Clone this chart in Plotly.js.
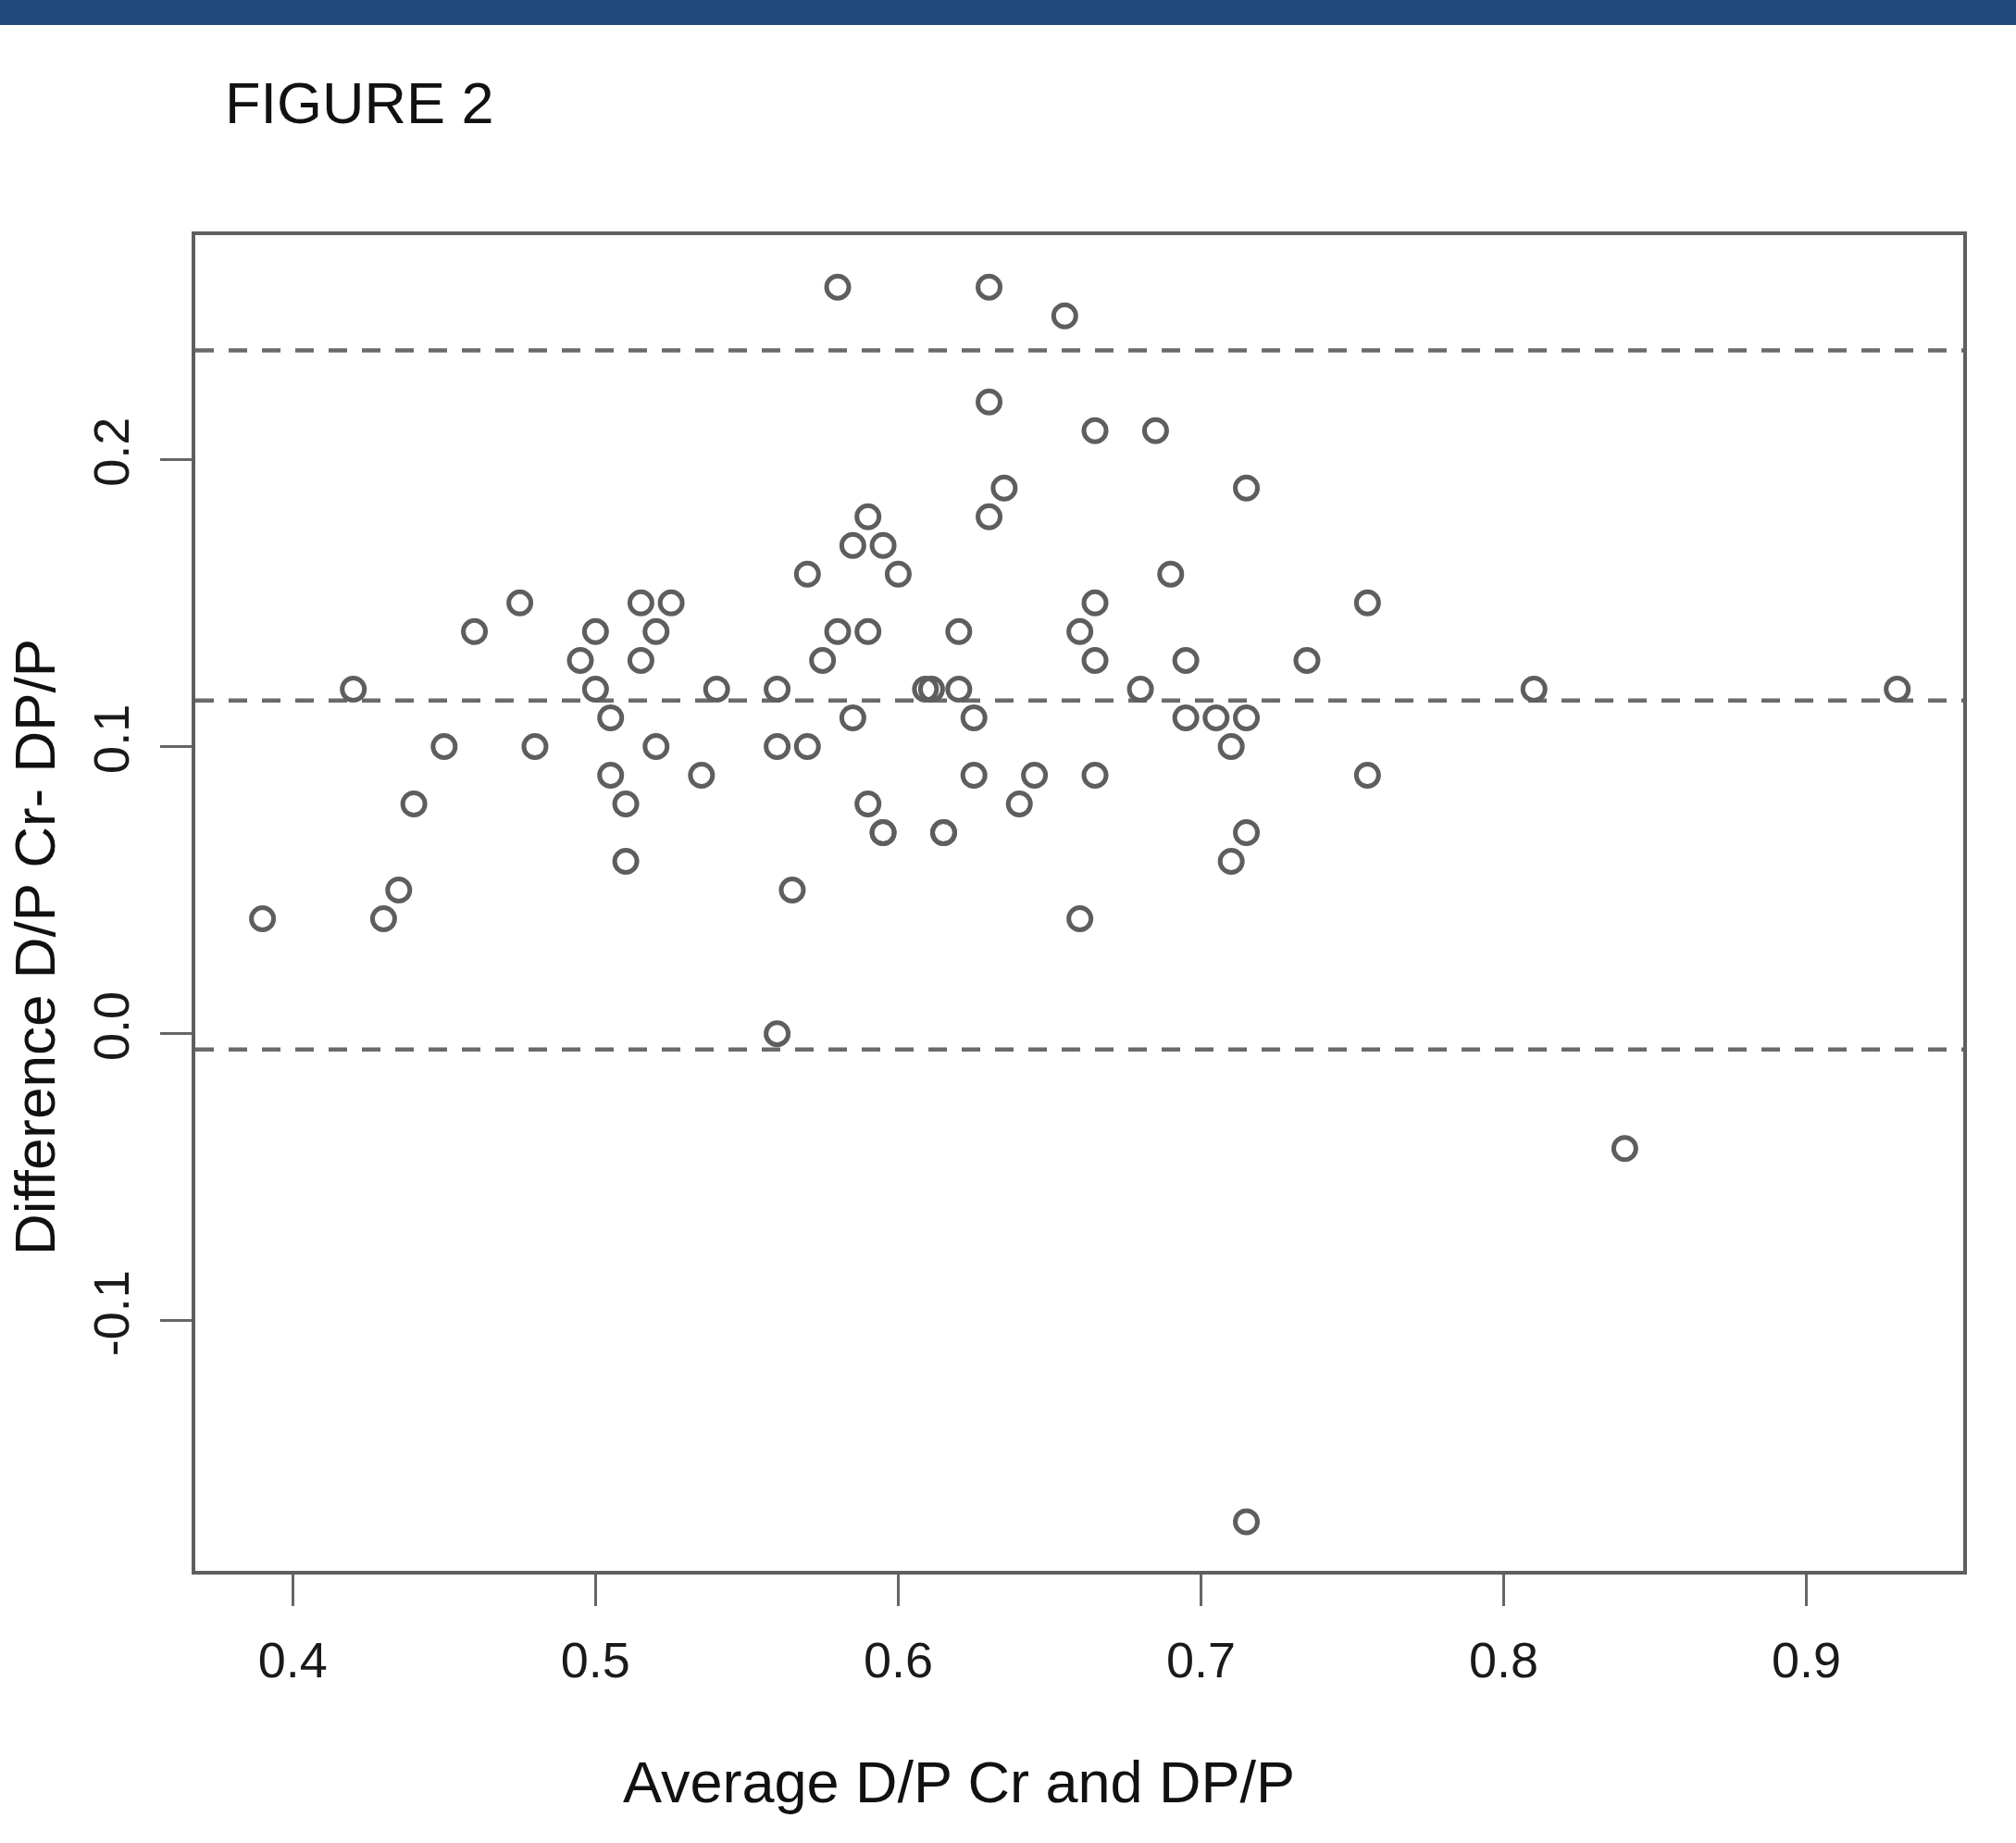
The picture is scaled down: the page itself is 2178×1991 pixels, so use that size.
<!DOCTYPE html>
<html>
<head>
<meta charset="utf-8">
<script src="https://cdn.plot.ly/plotly-3.0.1.min.js"></script>
<style>
  html, body { margin: 0; padding: 0; background: #ffffff; }
  #chart { width: 2178px; height: 1991px; }
</style>
</head>
<body>
<div id="chart"></div>
<script>
// Average of the two measurements (x) and their difference (y)
const avgDP = [0.39,0.42,0.43,0.435,0.44,0.45,0.46,0.475,0.48,0.495,
  0.50,0.50,0.505,0.505,0.51,0.51,0.515,0.515,0.52,0.52,
  0.525,0.535,0.54,0.56,0.56,0.56,0.565,0.57,0.57,0.575,
  0.58,0.58,0.585,0.585,0.59,0.59,0.59,0.595,0.595,0.595,
  0.60,0.609,0.611,0.615,0.615,0.62,0.62,0.625,0.625,0.63,
  0.63,0.63,0.635,0.64,0.645,0.655,0.66,0.66,0.665,0.665,
  0.665,0.665,0.68,0.685,0.69,0.695,0.695,0.705,0.71,0.71,
  0.715,0.715,0.715,0.715,0.735,0.755,0.755,0.81,0.84,0.93];
const diffDP = [0.04,0.12,0.04,0.05,0.08,0.10,0.14,0.15,0.10,0.13,
  0.14,0.12,0.11,0.09,0.08,0.06,0.15,0.13,0.14,0.10,
  0.15,0.09,0.12,0.12,0.10,0.00,0.05,0.16,0.10,0.13,
  0.26,0.14,0.17,0.11,0.18,0.14,0.08,0.17,0.07,0.07,
  0.16,0.12,0.12,0.07,0.07,0.14,0.12,0.11,0.09,0.26,
  0.22,0.18,0.19,0.08,0.09,0.25,0.14,0.04,0.21,0.15,
  0.13,0.09,0.12,0.21,0.16,0.13,0.11,0.11,0.10,0.06,
  0.19,0.11,0.07,-0.17,0.13,0.15,0.09,0.12,-0.04,0.12];

// Bias line and limits of agreement
const refLines = [0.238, 0.116, -0.0055];

const xTickVals = [0.4, 0.5, 0.6, 0.7, 0.8, 0.9];
const xTickText = ['0.4', '0.5', '0.6', '0.7', '0.8', '0.9'];
const yTickVals = [-0.1, 0.0, 0.1, 0.2];
const yTickText = ['-0.1', '0.0', '0.1', '0.2'];

const figTitle = 'FIGURE 2';
const xTitle = 'Average D/P Cr and DP/P';
const yTitle = 'Difference D/P Cr- DP/P';

const W = 2178, H = 1991;
const M = {l: 211, r: 57, t: 254, b: 294};
const pw = W - M.l - M.r, ph = H - M.t - M.b;
const px = v => (v - M.l) / pw;          // page x -> paper x
const py = v => (H - M.b - v) / ph;      // page y -> paper y

const grey = '#5e5e5e';
const fontFam = '"Liberation Sans", Arial, Helvetica, sans-serif';

const traces = [{
  type: 'scatter',
  mode: 'markers',
  x: avgDP,
  y: diffDP,
  marker: {symbol: 'circle-open', size: 24, color: grey, line: {width: 5, color: grey}},
  hoverinfo: 'x+y',
  showlegend: false
}];

const shapes = refLines.map(v => ({
  type: 'line', xref: 'paper', yref: 'y',
  x0: 0, x1: 1, y0: v, y1: v,
  line: {color: '#6a6a6a', width: 4.5, dash: '20px,16px'},
  layer: 'below'
}));

// dark blue banner across the top of the page
shapes.push({
  type: 'rect', xref: 'paper', yref: 'paper',
  x0: px(0), x1: px(W), y0: py(27), y1: py(0),
  fillcolor: '#21497b', line: {width: 0}, layer: 'below'
});

const layout = {
  width: W, height: H,
  margin: M,
  paper_bgcolor: '#ffffff',
  plot_bgcolor: '#ffffff',
  font: {family: fontFam, color: '#1a1a1a'},
  title: {
    text: figTitle,
    font: {family: fontFam, size: 63, color: '#111111'},
    xref: 'container', yref: 'container',
    x: 243 / W, xanchor: 'left',
    y: 1 - 111 / H, yanchor: 'middle'
  },
  xaxis: {
    range: [0.3678, 0.9518],
    tickmode: 'array', tickvals: xTickVals, ticktext: xTickText,
    ticks: 'outside', ticklen: 34, tickwidth: 3, tickcolor: '#666666',
    tickfont: {family: fontFam, size: 54, color: '#1a1a1a'},
    ticklabelstandoff: 12,
    showgrid: false, zeroline: false,
    showline: true, mirror: true, linecolor: '#5f5f5f', linewidth: 4
  },
  yaxis: {
    range: [-0.1871, 0.2781],
    tickmode: 'array', tickvals: yTickVals, ticktext: yTickText,
    tickangle: -90,
    ticks: 'outside', ticklen: 34, tickwidth: 3, tickcolor: '#666666',
    tickfont: {family: fontFam, size: 54, color: '#1a1a1a'},
    ticklabelstandoff: 12,
    showgrid: false, zeroline: false,
    showline: true, mirror: true, linecolor: '#5f5f5f', linewidth: 4
  },
  shapes: shapes,
  annotations: [
    {
      text: xTitle, xref: 'paper', yref: 'paper',
      x: px(1036), y: py(1925), xanchor: 'center', yanchor: 'middle',
      showarrow: false,
      font: {family: fontFam, size: 63, color: '#111111'}
    },
    {
      text: yTitle, xref: 'paper', yref: 'paper',
      x: px(38), y: py(1023), xanchor: 'center', yanchor: 'middle',
      textangle: -90, showarrow: false,
      font: {family: fontFam, size: 62, color: '#111111'}
    }
  ],
  showlegend: false
};

Plotly.newPlot('chart', traces, layout, {displayModeBar: false, staticPlot: true});
</script>
</body>
</html>
